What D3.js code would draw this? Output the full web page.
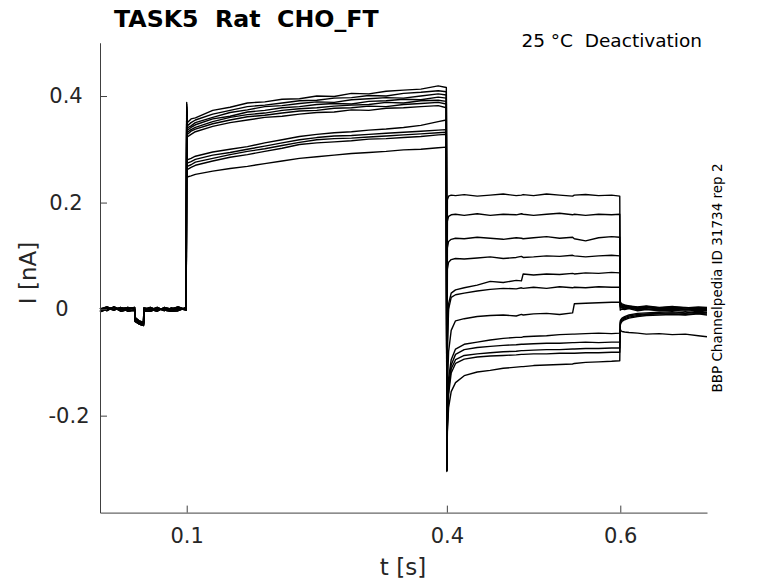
<!DOCTYPE html>
<html>
<head>
<meta charset="utf-8">
<script src="https://cdn.jsdelivr.net/npm/d3@7"></script>
<style>
  body { margin: 0; background: #fff; }
  text { font-family: 'DejaVu Sans', sans-serif; }
</style>
</head>
<body>
<svg id="chart" width="778" height="583"></svg>
<script>
// Time grids (s) for each segment of the protocol
const tBase = [0, 0.008, 0.016, 0.024, 0.032, 0.04, 0.0404, 0.045, 0.0502, 0.0506, 0.058, 0.066, 0.074, 0.082, 0.09, 0.0994]
const tTest = [0.1, 0.1006, 0.105, 0.11, 0.13, 0.15, 0.17, 0.19, 0.21, 0.23, 0.25, 0.27, 0.29, 0.31, 0.33, 0.35, 0.37, 0.39, 0.3994]
const tTail = [0.4, 0.4006, 0.402, 0.405, 0.41, 0.42, 0.435, 0.45, 0.465, 0.48, 0.486, 0.488, 0.5, 0.515, 0.53, 0.545, 0.547, 0.56, 0.575, 0.59, 0.5994]
const tPost = [0.6, 0.6006, 0.602, 0.605, 0.61, 0.62, 0.63, 0.645, 0.66, 0.675, 0.69, 0.7]

// Currents in pA
const baseCurrents = [
  [2, -3, 4, -1, 3, 0, -18, -24, -27, 1, -2, 3, -3, 2, -1, 1],
  [-3, 2, -2, 3, -4, -2, -21, -26, -29, -1, 3, -2, 1, -3, 2, -2],
  [0, 4, -1, 2, 1, 3, -16, -22, -25, 2, 0, -4, 3, 0, 4, -1],
  [-5, 0, 3, -4, -1, -3, -23, -28, -31, -3, -4, 1, -2, -4, -3, 3]
]

const testCurrents = [
  [388, 350, 357, 359, 373, 379, 387, 389, 394, 395, 400, 399, 405, 404, 409, 411, 413, 419, 416],
  [384, 344, 350, 355, 366, 373, 380, 383, 387, 391, 392, 396, 397, 401, 400, 405, 407, 410, 408],
  [380, 340, 344, 350, 360, 369, 374, 380, 382, 386, 389, 388, 393, 395, 397, 396, 400, 404, 402],
  [378, 336, 341, 346, 357, 362, 370, 373, 378, 380, 384, 386, 385, 390, 391, 394, 393, 398, 396],
  [375, 332, 337, 341, 352, 360, 365, 368, 373, 376, 378, 381, 383, 384, 388, 387, 391, 392, 390],
  [372, 328, 334, 338, 348, 355, 361, 364, 368, 372, 373, 377, 378, 381, 380, 384, 386, 388, 385],
  [370, 323, 328, 333, 343, 350, 355, 360, 362, 366, 369, 370, 374, 373, 377, 378, 380, 382, 378],
  [365, 280, 283, 287, 295, 300, 305, 312, 318, 324, 328, 331, 333, 336, 338, 341, 345, 352, 355],
  [362, 274, 277, 281, 289, 294, 300, 306, 312, 318, 322, 325, 326, 328, 330, 332, 334, 336, 337],
  [360, 268, 271, 276, 283, 290, 296, 301, 307, 313, 318, 320, 321, 323, 325, 327, 329, 331, 332],
  [358, 262, 266, 270, 278, 285, 290, 296, 302, 309, 312, 314, 316, 319, 320, 322, 324, 327, 328],
  [355, 248, 250, 253, 259, 264, 268, 273, 278, 283, 286, 289, 292, 294, 296, 299, 300, 303, 304]
]

const tailCurrents = [
  [-303, 205, 212, 214, 213, 215, 212, 214, 216, 213, 214, 215, 213, 216, 214, 212, 214, 215, 213, 214, 212],
  [-300, 165, 174, 177, 178, 176, 179, 176, 178, 177, 179, 178, 176, 178, 180, 177, 178, 176, 178, 177, 178],
  [-298, 115, 127, 131, 133, 132, 135, 133, 131, 134, 133, 132, 134, 136, 133, 135, 132, 128, 134, 136, 135],
  [-302, 75, 88, 93, 95, 94, 96, 98, 95, 97, 99, 97, 98, 100, 99, 101, 100, 98, 100, 101, 100],
  [-297, -60, 10, 30, 36, 40, 45, 52, 50, 54, 53, 66, 64, 66, 65, 67, 66, 68, 67, 69, 68],
  [-300, -80, 0, 22, 27, 30, 34, 37, 39, 38, 40, 39, 41, 39, 42, 40, 41, 40, 42, 41, 41],
  [-302, -150, -80, -40, -22, -18, -14, -12, -11, -13, -10, -11, -9, -8, -10, -7, 10, 11, 12, 13, 13],
  [-298, -200, -130, -95, -75, -66, -62, -58, -55, -53, -53, -52, -51, -50, -48, -47, -47, -46, -45, -46, -45],
  [-301, -210, -145, -105, -85, -76, -72, -70, -68, -67, -66, -66, -65, -64, -64, -63, -63, -62, -63, -62, -62],
  [-299, -215, -150, -112, -95, -87, -84, -82, -80, -79, -78, -78, -77, -76, -76, -75, -75, -74, -74, -73, -73],
  [-303, -220, -160, -120, -102, -94, -90, -88, -87, -86, -85, -85, -84, -84, -83, -83, -83, -82, -82, -81, -81],
  [-305, -230, -185, -155, -138, -125, -118, -115, -111, -109, -108, -108, -106, -105, -104, -103, -102, -100, -99, -98, -97]
]

const postCurrents = [
  [14, 12, 10, 8, 6, 4, 6, 3, 5, 2, 4, 3],
  [12, 10, 8, 7, 5, 3, 5, 2, 4, 3, 1, 2],
  [10, 8, 7, 5, 6, 2, 4, 1, 3, 0, 2, 1],
  [8, 6, 5, 4, 3, 1, 3, 0, 2, -1, 1, 0],
  [6, 5, 3, 2, 4, 0, 1, -2, 1, 0, -1, -2],
  [4, 3, 2, 1, 2, -1, 0, -1, 0, -2, 0, -1],
  [-2, -1, 0, -1, 1, -3, -1, -3, -2, -4, -2, -3],
  [-38, -40, -42, -43, -44, -45, -47, -46, -48, -47, -50, -52],
  [-22, -20, -17, -14, -11, -8, -7, -6, -5, -7, -4, -6],
  [-25, -22, -19, -16, -13, -10, -9, -8, -7, -8, -6, -7],
  [-27, -24, -21, -18, -15, -12, -10, -9, -9, -10, -8, -9],
  [-30, -27, -23, -20, -17, -14, -12, -11, -10, -11, -9, -11]
]

const xTicks = [0.1, 0.4, 0.6]
const xTickLabels = ['0.1', '0.4', '0.6']
const yTicks = [-0.2, 0, 0.2, 0.4]
const yTickLabels = ['-0.2', '0', '0.2', '0.4']

const svg = d3.select('#chart')
const margin = { top: 42.75, left: 100, right: 71, bottom: 70.4 }
const width = 778 - margin.left - margin.right
const height = 583 - margin.top - margin.bottom

const x = d3.scaleLinear().domain([0, 0.7]).range([margin.left, margin.left + width])
const y = d3.scaleLinear().domain([-0.382, 0.5]).range([margin.top + height, margin.top])

// Build each sweep from its segments
const sweeps = testCurrents.map(function (test, i) {
  const pts = []
  const add = function (ts, vs) {
    ts.forEach(function (t, k) { pts.push({ t: t, v: vs[k] / 1000 }) })
  }
  add(tBase, baseCurrents[i % baseCurrents.length])
  add(tTest, test)
  add(tTail, tailCurrents[i])
  add(tPost, postCurrents[i])
  return pts
})

const line = d3.line()
  .x(function (d) { return x(d.t) })
  .y(function (d) { return y(d.v) })

svg.append('g')
  .selectAll('path')
  .data(sweeps)
  .enter().append('path')
  .attr('d', line)
  .attr('fill', 'none')
  .attr('stroke', '#000')
  .attr('stroke-width', 1.4)
  .attr('stroke-linejoin', 'round')

// Axes
svg.append('g')
  .attr('transform', `translate(0, ${margin.top + height})`)
  .call(d3.axisBottom(x)
    .tickValues(xTicks)
    .tickFormat(function (d, i) { return xTickLabels[i] })
    .tickSize(-7).tickSizeOuter(0).tickPadding(15))

const yAxis = svg.append('g')
  .attr('transform', `translate(${margin.left}, 0)`)
  .call(d3.axisLeft(y)
    .tickValues(yTicks)
    .tickFormat(function (d, i) { return yTickLabels[i] })
    .tickSize(-7).tickSizeOuter(0).tickPadding(15))

// y tick labels sit roughly centred in the reference, not flush right
const yLabelCentre = [-31, -38, -34, -34]
yAxis.selectAll('.tick text')
  .attr('text-anchor', 'middle')
  .attr('x', function (d, i) { return yLabelCentre[i] })

svg.selectAll('.domain, .tick line').attr('stroke', '#404040').attr('stroke-width', 1)
svg.selectAll('.tick text')
  .attr('fill', '#262626')
  .style('font-size', '21px')
  .style('font-family', "'DejaVu Sans', sans-serif")

// Labels
svg.append('text')
  .attr('x', 403).attr('y', 575)
  .attr('text-anchor', 'middle')
  .attr('fill', '#262626')
  .style('font-size', '23px')
  .text('t [s]')

svg.append('text')
  .attr('transform', 'translate(36, 273) rotate(-90)')
  .attr('text-anchor', 'middle')
  .attr('fill', '#262626')
  .style('font-size', '23px')
  .text('I [nA]')

svg.append('text')
  .attr('x', 114).attr('y', 27)
  .style('font-size', '23.7px')
  .style('font-weight', 'bold')
  .style('white-space', 'pre')
  .text('TASK5  Rat  CHO_FT')

svg.append('text')
  .attr('x', 702).attr('y', 47)
  .attr('text-anchor', 'end')
  .style('font-size', '18.5px')
  .style('white-space', 'pre')
  .text('25 °C  Deactivation')

svg.append('text')
  .attr('transform', 'translate(722, 278) rotate(-90)')
  .attr('text-anchor', 'middle')
  .style('font-size', '13.5px')
  .text('BBP Channelpedia ID 31734 rep 2')
</script>
</body>
</html>
